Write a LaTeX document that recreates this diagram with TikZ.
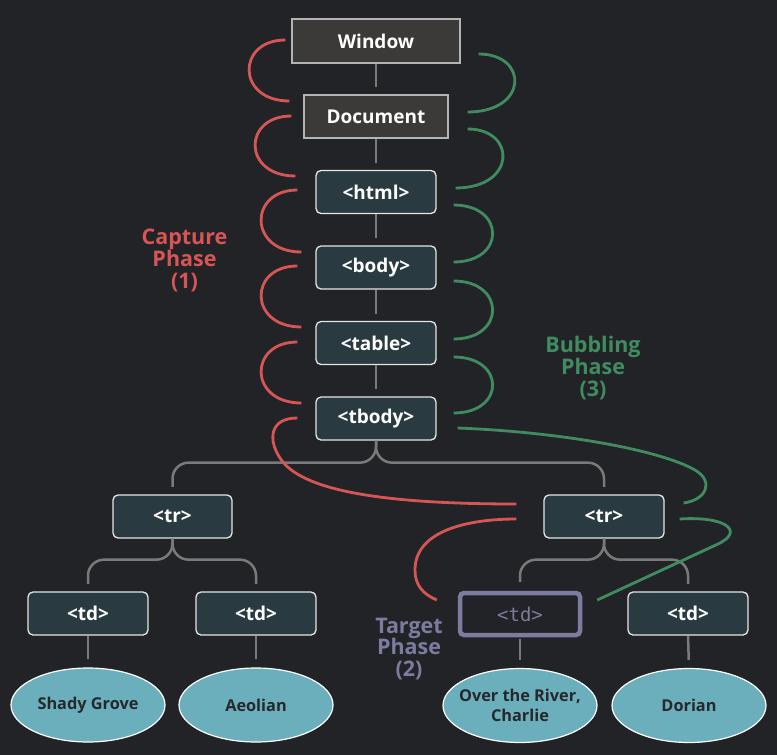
\documentclass[tikz,border=0pt]{standalone}
\usepackage{fontspec}
\setmainfont{Open Sans}
\newfontfamily\codefont{DejaVu Sans Mono}
\usetikzlibrary{shapes.geometric}
\definecolor{bg}{HTML}{222327}
\definecolor{topfill}{HTML}{3C3A38}
\definecolor{topborder}{HTML}{B4B4B4}
\definecolor{elfill}{HTML}{293B40}
\definecolor{elborder}{HTML}{E6E6E6}
\definecolor{conncol}{HTML}{7A7A7A}
\definecolor{capcol}{HTML}{D65656}
\definecolor{bubcol}{HTML}{408C60}
\definecolor{tgtcol}{HTML}{7B7C9E}
\definecolor{leaffill}{HTML}{6BAFBC}
\definecolor{leaftext}{HTML}{26282C}
\begin{document}
\begin{tikzpicture}[x=1pt,y=-1pt,
  topbox/.style={draw=topborder, fill=topfill, line width=1.3pt, inner sep=0pt,
    text=white, font=\bfseries\fontsize{19}{22}\selectfont},
  elbox/.style={draw=elborder, fill=elfill, line width=1.3pt, rounded corners=5pt,
    minimum width=120pt, minimum height=43pt, inner sep=0pt,
    text=white, font=\bfseries\fontsize{19}{22}\selectfont},
  tgtbox/.style={draw=tgtcol, fill=bg, line width=4.5pt, rounded corners=4pt,
    minimum width=120pt, minimum height=42pt, inner sep=0pt,
    text=tgtcol, font=\codefont\fontsize{19}{22}\selectfont},
  leaf/.style={ellipse, draw=white, fill=leaffill, line width=1.2pt,
    minimum width=154pt, minimum height=74pt, inner sep=0pt, inner xsep=-15pt, align=center,
    text=leaftext, font=\bfseries\fontsize{16.3}{20.5}\selectfont},
  conn/.style={draw=conncol, line width=2.5pt},
  branch/.style={conn, rounded corners=16pt, shorten >=7.5pt},
  caparc/.style={draw=capcol, line width=2.8pt},
  bubarc/.style={draw=bubcol, line width=2.8pt},
  phase/.style={align=center, font=\bfseries\fontsize{21.5}{21.7}\selectfont}]
\fill[bg] (0,0) rectangle (777,755);
\useasboundingbox (0,0) rectangle (777,755);

% nodes
\node[topbox, minimum width=168pt, minimum height=44pt] (win) at (376,41) {Window};
\node[topbox, minimum width=144pt, minimum height=43pt] (doc) at (376,116.5) {Document};
\node[elbox] (html) at (376,192) {<html>};
\node[elbox] (body) at (376,267.5) {<body>};
\node[elbox] (table) at (376,343) {<table>};
\node[elbox] (tbody) at (376,418.5) {<tbody>};
\node[elbox, minimum width=119pt] (trL) at (172.5,516.5) {<tr>};
\node[elbox] (trR) at (604,516.5) {<tr>};
\node[elbox] (td1) at (88,613.5) {<td>};
\node[elbox] (td2) at (256,613.5) {<td>};
\node[tgtbox] (tdT) at (520,614) {<td>};
\node[elbox] (td4) at (688,613.5) {<td>};
\node[leaf] (l1) at (88,705) {Shady Grove};
\node[leaf] (l2) at (256,705) {Aeolian};
\node[leaf] (l3) at (520,705.5) {Over the River,\\Charlie};
\node[leaf] (l4) at (689,705.5) {Dorian};

% phase labels
\node[phase, text=capcol] (capl) at (184.5,260.5) {Capture\\Phase\\(1)};
\node[phase, text=bubcol] (bubl) at (593,368) {Bubbling\\Phase\\(3)};
\node[phase, text=tgtcol] (tgtl) at (409,649) {Target\\Phase\\(2)};

% tree connectors
\draw[conn, shorten >=7pt] (win.south) -- (doc.north);
\draw[conn, shorten >=7pt] (doc.south) -- (html.north);
\draw[conn, shorten >=7pt] (html.south) -- (body.north);
\draw[conn, shorten >=7pt] (body.south) -- (table.north);
\draw[conn, shorten >=7pt] (table.south) -- (tbody.north);
\draw[branch] (tbody.south) -- ++(0,22) -| (trL.north);
\draw[branch] (tbody.south) -- ++(0,22) -| (trR.north);
\draw[branch] (trL.south) -- ++(0,21) -| (td1.north);
\draw[branch] (trL.south) -- ++(0,21) -| (td2.north);
\draw[branch, shorten >=9pt] (trR.south) -- ++(0,21) -| (tdT.north);
\draw[branch] (trR.south) -- ++(0,21) -| (td4.north);
\draw[conn, shorten <=0.5pt, shorten >=8pt] (td1.south) -- (l1.north);
\draw[conn, shorten <=0.5pt, shorten >=8pt] (td2.south) -- (l2.north);
\draw[conn, shorten <=2pt, shorten >=8pt] (tdT.south) -- (l3.north);
\draw[conn, shorten <=0.5pt, shorten >=8pt] (td4.south) -- (l4.north);

% capture arcs
\draw[caparc] ([shift={(-6,-1)}]win.west) .. controls +(-49,0) and +(-53,0) .. ([shift={(-14,-15.5)}]doc.west);
\draw[caparc] ([shift={(-12,-0.5)}]doc.west) .. controls +(-49,0) and +(-53,0) .. ([shift={(-20,-16)}]html.west);
\draw[caparc] ([shift={(-18,-2)}]html.west) .. controls +(-49,0) and +(-53,0) .. ([shift={(-14,-15.5)}]body.west);
\draw[caparc] ([shift={(-18,-1.5)}]body.west) .. controls +(-49,0) and +(-53,0) .. ([shift={(-14,-16)}]table.west);
\draw[caparc] ([shift={(-18,-1)}]table.west) .. controls +(-49,0) and +(-53,0) .. ([shift={(-14,-15.5)}]tbody.west);
\draw[caparc] ([shift={(-18,-0.5)}]tbody.west) .. controls +(-28,0) and +(-12,-18) .. (280,458)
  .. controls +(20,32) and +(-137,0) .. ([shift={(-27,-12.5)}]trR.west);
\draw[caparc] ([shift={(-27,2.5)}]trR.west) .. controls +(-47,0) and +(0,-40) .. (415,570)
  .. controls +(0,15) and +(-14,-6) .. ([shift={(-21,-14)}]tdT.west);

% bubbling arcs
\draw[bubarc] ([shift={(18,13)}]win.east) .. controls +(50,0) and +(61,0) .. ([shift={(19,-4.5)}]doc.east);
\draw[bubarc] ([shift={(19,12.5)}]doc.east) .. controls +(49,0) and +(61,0) .. ([shift={(19,-4)}]html.east);
\draw[bubarc] ([shift={(17,13)}]html.east) .. controls +(52,0) and +(52,0) .. ([shift={(17,-5.5)}]body.east);
\draw[bubarc] ([shift={(17,13.5)}]body.east) .. controls +(52,0) and +(52,0) .. ([shift={(17,-4)}]table.east);
\draw[bubarc] ([shift={(17,14)}]table.east) .. controls +(52,0) and +(52,0) .. ([shift={(17,-5.5)}]tbody.east);
\draw[bubarc] ([shift={(21,9.5)}]tbody.east) .. controls +(103,4) and +(-35,-20) .. (695,470)
  .. controls +(20,12) and +(22,-3) .. ([shift={(19,-13.5)}]trR.east);
\draw[bubarc] ([shift={(15,2.5)}]trR.east) .. controls +(46,-3) and +(27,-13) .. (718,544)
  -- ([shift={(15,-14)}]tdT.east);
\end{tikzpicture}
\end{document}
